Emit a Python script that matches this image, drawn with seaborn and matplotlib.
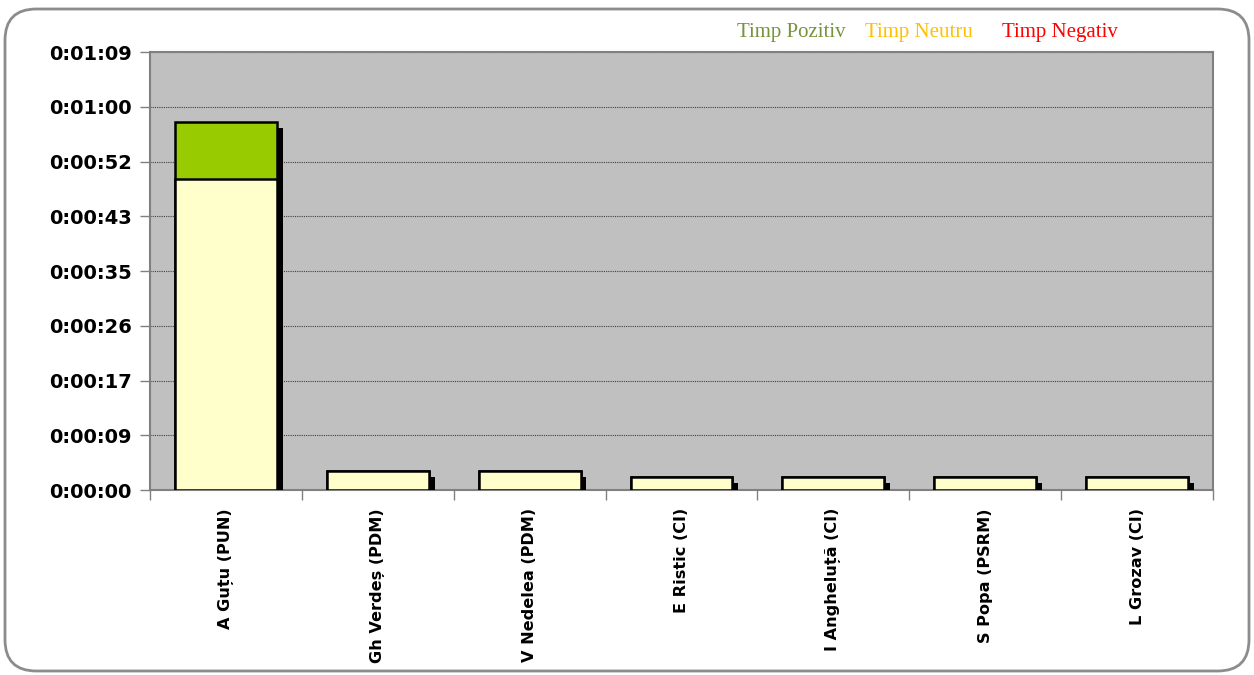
import matplotlib
matplotlib.use("Agg")
import matplotlib.pyplot as plt
import matplotlib.patches as mpatches
import matplotlib.patheffects as pe
from matplotlib.ticker import FixedLocator, FuncFormatter
import numpy as np
import pandas as pd
import seaborn as sns

# values in seconds
speakers = ["A Guțu (PUN)", "Gh Verdeș (PDM)", "V Nedelea (PDM)", "E Ristic (CI)",
            "I Angheluță (CI)", "S Popa (PSRM)", "L Grozav (CI)"]
neutral = [49, 3, 3, 2, 2, 2, 2]
positive = [9, 0, 0, 0, 0, 0, 0]
negative = [0, 0, 0, 0, 0, 0, 0]

legend_labels = ["Timp Pozitiv", "Timp Neutru", "Timp Negativ"]
legend_colors = ["#77933C", "#FFC000", "#FF0000"]

# Excel-style axis: major unit 0.0001 day = 8.64 s
y_ticks = [i * 8.64 for i in range(9)]


def fmt_time(v, _pos=None):
    s = int(round(v))
    return f"{s // 3600}:{(s % 3600) // 60:02d}:{s % 60:02d}"


df = pd.DataFrame({"speaker": speakers, "neutral": neutral, "positive": positive,
                   "negative": negative})
df["total"] = df["neutral"] + df["positive"] + df["negative"]

sns.set_theme(style="white", rc={"text.color": "black", "xtick.color": "black",
                                 "ytick.color": "black"})
fig = plt.figure(figsize=(12.54, 6.75), dpi=100)
ax = fig.add_axes([150 / 1254, 1 - 490 / 675, (1213 - 150) / 1254, (490 - 52) / 675])
ax.set_facecolor("#C0C0C0")

shadow = [pe.SimplePatchShadow(offset=(4.3, -4.3), shadow_rgbFace="black", alpha=1.0), pe.Normal()]
sns.barplot(data=df, x="speaker", y="total", color="#99CC00", saturation=1, width=0.67,
            edgecolor="black", linewidth=1.8, ax=ax, zorder=3)
sns.barplot(data=df, x="speaker", y="neutral", color="#FFFFCC", saturation=1, width=0.67,
            edgecolor="black", linewidth=1.8, ax=ax, zorder=3)
for p in ax.patches:
    p.set_path_effects(shadow)

ax.set_ylim(0, y_ticks[-1])
ax.set_xlim(-0.5, len(speakers) - 0.5)
ax.yaxis.set_major_locator(FixedLocator(y_ticks))
ax.yaxis.set_major_formatter(FuncFormatter(fmt_time))
ax.grid(axis="y", color="#404040", linestyle=(0, (1, 1)), linewidth=0.8, zorder=1)
ax.set_axisbelow(True)
ax.set_xlabel("")
ax.set_ylabel("")

for s in ax.spines.values():
    s.set_color("#808080")
    s.set_linewidth(1.5)
    s.set_visible(True)

ax.tick_params(axis="y", which="major", left=True, length=7, width=1, color="#808080",
               labelcolor="black", labelsize=14, pad=6)
for t in ax.get_yticklabels():
    t.set_fontweight("bold")

# category ticks between bars
ax.set_xticks(range(len(speakers)))
ax.set_xticklabels(speakers, rotation=90, fontsize=11.6, fontweight="bold", va="top",
                   ha="center", color="black")
ax.tick_params(axis="x", which="major", bottom=False, pad=7)
ax.set_xticks([i - 0.5 for i in range(len(speakers) + 1)], minor=True)
ax.tick_params(axis="x", which="minor", bottom=True, length=7, width=1, color="#808080")

# legend as colored text
xs = [737, 865, 1002]
for x, lab, col in zip(xs, legend_labels, legend_colors):
    fig.text(x / 1254, 1 - 32 / 675, lab, color=col, fontsize=15,
             family="Liberation Serif", va="center", ha="left")

frame = mpatches.FancyBboxPatch((5 / 1254, 4 / 675), 1244 / 1254, 662 / 675,
                                boxstyle="round,pad=0,rounding_size=0.025",
                                transform=fig.transFigure, facecolor="none",
                                edgecolor="#8C8C8C", linewidth=2, mutation_aspect=1254 / 675)
fig.patches.append(frame)

fig.savefig("out.png", dpi=100)
